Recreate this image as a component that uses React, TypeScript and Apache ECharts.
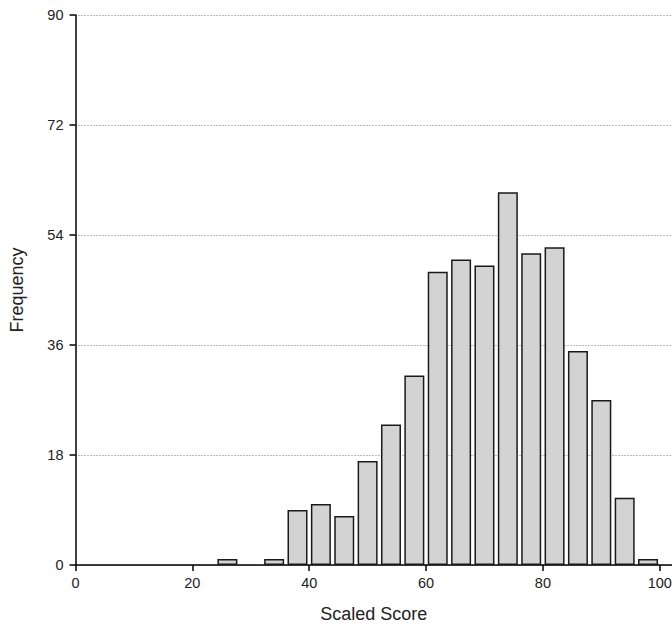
import React, { useEffect, useRef } from "react";
import * as echarts from "echarts";

const binCenters = [26, 34, 38, 42, 46, 50, 54, 58, 62, 66, 70, 74, 78, 82, 86, 90, 94, 98];
const frequencies = [1, 1, 9, 10, 8, 17, 23, 31, 48, 50, 49, 61, 51, 52, 35, 27, 11, 1];
const xTicks = [0, 20, 40, 60, 80, 100];
const yTicks = [0, 18, 36, 54, 72, 90];

export default function App() {
  const ref = useRef<HTMLDivElement>(null);
  useEffect(() => {
    if (!ref.current) return;
    const chart = echarts.init(ref.current, null, { renderer: "svg" });
    const font = "'Liberation Sans', Arial, sans-serif";
    chart.setOption({
      animation: false,
      textStyle: { fontFamily: font },
      grid: { left: 75.5, right: 0, top: 15, bottom: 60, containLabel: false, outerBoundsMode: "none" },
      xAxis: {
        type: "value",
        min: 0,
        max: 102.1,
        name: "Scaled Score",
        nameLocation: "middle",
        nameGap: 40,
        nameTextStyle: { fontSize: 18, color: "#222", fontFamily: font },
        axisLine: { show: true, lineStyle: { color: "#000", width: 1.5 } },
        axisTick: { show: true, length: 6, customValues: xTicks, lineStyle: { color: "#000", width: 1.5 } },
        axisLabel: { customValues: xTicks, fontSize: 14.5, color: "#222", margin: 10, fontFamily: font },
        splitLine: { show: false },
      },
      yAxis: {
        type: "value",
        min: yTicks[0],
        max: yTicks[yTicks.length - 1],
        interval: 18,
        name: "Frequency",
        nameLocation: "middle",
        nameGap: 50,
        nameTextStyle: { fontSize: 18, color: "#222", fontFamily: font },
        axisLine: { show: true, lineStyle: { color: "#000", width: 1.5 } },
        axisTick: { show: true, length: 6, lineStyle: { color: "#000", width: 1.5 } },
        axisLabel: { fontSize: 14.5, color: "#222", margin: 12, fontFamily: font },
        splitLine: { show: true, lineStyle: { color: "#777", type: [1, 2], width: 1 } },
      },
      series: [
        {
          type: "bar",
          data: binCenters.map((x, i) => [x, frequencies[i]]),
          barWidth: 20,
          itemStyle: { color: "#d3d3d3", borderColor: "#1a1a1a", borderWidth: 1.5 },
          emphasis: { disabled: true },
        },
      ],
    });
    return () => chart.dispose();
  }, []);
  return (
    <div
      ref={ref}
      style={{ position: "fixed", left: 0, top: 0, width: 672, height: 625, background: "#fff" }}
    />
  );
}
